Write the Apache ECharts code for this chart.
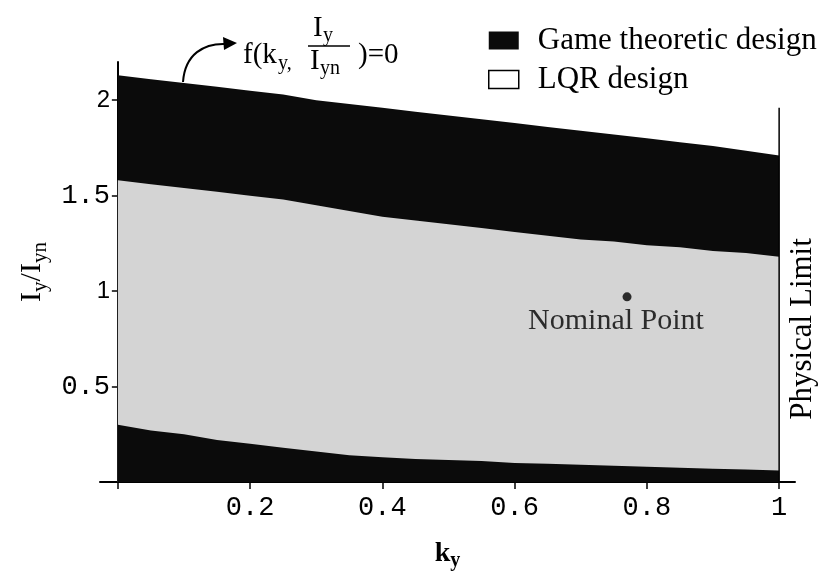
<!DOCTYPE html>
<html>
<head>
<meta charset="utf-8">
<script src="https://cdn.jsdelivr.net/npm/echarts@6/dist/echarts.min.js"></script>
<style>
  html, body { margin: 0; padding: 0; background: #fff; }
  #chart { width: 827px; height: 576px; }
</style>
</head>
<body>
<div id="chart"></div>
<script>
// k_y sample points and boundaries of the regions (I_y / I_yn)
const kValues = [0, 0.05, 0.1, 0.15, 0.2, 0.25, 0.3, 0.35, 0.4, 0.45, 0.5,
  0.55, 0.6, 0.65, 0.7, 0.75, 0.8, 0.85, 0.9, 0.95, 1]
const gameTop = [2.13, 2.11, 2.09, 2.07, 2.05, 2.03, 2.0, 1.98, 1.96, 1.94, 1.92,
  1.9, 1.88, 1.86, 1.84, 1.82, 1.8, 1.78, 1.76, 1.735, 1.71]
const lqrTop = [1.58, 1.56, 1.54, 1.52, 1.5, 1.48, 1.45, 1.42, 1.39, 1.37, 1.35,
  1.33, 1.31, 1.29, 1.27, 1.26, 1.24, 1.23, 1.21, 1.2, 1.18]
const lqrBottom = [0.3, 0.27, 0.25, 0.22, 0.2, 0.18, 0.16, 0.14, 0.13, 0.12, 0.115,
  0.11, 0.1, 0.095, 0.09, 0.085, 0.08, 0.075, 0.07, 0.065, 0.06]
const nominalPoint = [0.77, 0.97]
const physicalLimit = [[1, 0], [1, 1.96]]
const xTicks = [0, 0.2, 0.4, 0.6, 0.8, 1]
const xTickLabels = [0.2, 0.4, 0.6, 0.8, 1]
const yTicks = [0.5, 1, 1.5, 2]

const DARK = '#0b0b0b'
const LIGHT = '#d4d4d4'
const SERIF = '"Liberation Serif", "DejaVu Serif", serif'
const MONO = '"Liberation Mono", "DejaVu Sans Mono", monospace'

const chart = echarts.init(document.getElementById('chart'))

const pairs = ys => kValues.map((k, i) => [k, ys[i]])

function band(name, ys, color) {
  return {
    name,
    type: 'line',
    data: pairs(ys),
    symbol: 'none',
    lineStyle: { width: 0 },
    itemStyle: { color },
    areaStyle: { color, opacity: 1 },
    silent: true,
  }
}

chart.setOption({
  animation: false,
  grid: { left: 100, right: 32, top: 62, bottom: 94, outerBoundsMode: 'none', containLabel: false },
  legend: {
    left: 483,
    top: 20,
    orient: 'vertical',
    icon: 'rect',
    itemWidth: 30,
    itemHeight: 18,
    itemGap: 8,
    textStyle: { fontFamily: SERIF, fontSize: 31, color: '#000', padding: [0, 0, 0, 14] },
    data: [
      { name: 'Game theoretic design' },
      { name: 'LQR design', itemStyle: { color: '#fff', borderColor: '#000', borderWidth: 1.5 } },
    ],
  },
  xAxis: {
    type: 'value',
    min: -0.027,
    max: 1.024,
    splitLine: { show: false },
    axisLine: { lineStyle: { color: '#000', width: 2 } },
    axisTick: { customValues: xTicks, length: 7, lineStyle: { color: '#000', width: 1.5 } },
    axisLabel: {
      customValues: xTickLabels,
      formatter: v => String(v),
      fontFamily: MONO, fontSize: 27, color: '#000', margin: 12,
    },
    name: '{b|k}{s|y}',
    nameLocation: 'middle',
    nameGap: 55,
    nameTextStyle: {
      rich: {
        b: { fontFamily: SERIF, fontSize: 28, fontWeight: 'bold', color: '#000' },
        s: { fontFamily: SERIF, fontSize: 20, fontWeight: 'bold', color: '#000', padding: [14, 0, 0, 0] },
      },
    },
  },
  yAxis: {
    type: 'value',
    min: 0,
    max: 2.2,
    splitLine: { show: false },
    axisLine: { onZero: true, lineStyle: { color: '#000', width: 2 } },
    axisTick: { customValues: yTicks, length: 6, lineStyle: { color: '#000', width: 1.5 } },
    axisLabel: {
      customValues: yTicks,
      // labels are laid out from the grid edge, 18px left of the zero-crossing axis line
      margin: -10,
      formatter: v => (v === 1 || v === 2) ? '{s|' + v + '}' : '{m|' + v + '}',
      rich: {
        s: { fontFamily: '"Liberation Sans", Arial, sans-serif', fontSize: 24, color: '#000' },
        m: { fontFamily: MONO, fontSize: 27, color: '#000' },
      },
    },
    name: '{n|I}{s|y}{n|/I}{s|yn}',
    nameLocation: 'middle',
    nameGap: 44,
    nameTextStyle: {
      rich: {
        n: { fontFamily: SERIF, fontSize: 30, color: '#000' },
        s: { fontFamily: SERIF, fontSize: 21, color: '#000', padding: [15, 0, 0, 0] },
      },
    },
  },
  series: [
    band('Game theoretic design', gameTop, DARK),
    band('LQR design', lqrTop, LIGHT),
    band('Game theoretic design', lqrBottom, DARK),
    {
      type: 'line',
      data: physicalLimit,
      symbol: 'none',
      lineStyle: { color: '#000', width: 1.5 },
      silent: true,
    },
    {
      type: 'scatter',
      data: [nominalPoint],
      symbolSize: 9,
      itemStyle: { color: '#000' },
      z: 5,
      label: {
        show: true,
        formatter: 'Nominal Point',
        position: 'bottom',
        distance: 5,
        offset: [-11, 0],
        fontFamily: SERIF,
        fontSize: 30,
        color: '#000',
      },
    },
  ],
  graphic: [
    {
      type: 'bezierCurve',
      shape: { x1: 183, y1: 82, x2: 226, y2: 44, cpx1: 185, cpy1: 54, cpx2: 204, cpy2: 43 },
      style: { stroke: '#000', lineWidth: 2, fill: null },
    },
    {
      type: 'polygon',
      shape: { points: [[237, 43], [223, 37], [224, 50]] },
      style: { fill: '#000' },
    },
    { type: 'text', x: 243, y: 55, style: { text: 'f(k', font: '29px ' + SERIF, verticalAlign: 'middle', fill: '#000' } },
    { type: 'text', x: 278, y: 64, style: { text: 'y,', font: '20px ' + SERIF, verticalAlign: 'middle', fill: '#000' } },
    { type: 'text', x: 313, y: 28, style: { text: 'I', font: '29px ' + SERIF, verticalAlign: 'middle', fill: '#000' } },
    { type: 'text', x: 323, y: 36, style: { text: 'y', font: '20px ' + SERIF, verticalAlign: 'middle', fill: '#000' } },
    { type: 'line', shape: { x1: 308, y1: 46, x2: 350, y2: 46 }, style: { stroke: '#000', lineWidth: 1.5 } },
    { type: 'text', x: 310, y: 61, style: { text: 'I', font: '29px ' + SERIF, verticalAlign: 'middle', fill: '#000' } },
    { type: 'text', x: 320, y: 69, style: { text: 'yn', font: '20px ' + SERIF, verticalAlign: 'middle', fill: '#000' } },
    { type: 'text', x: 358, y: 55, style: { text: ')=0', font: '29px ' + SERIF, verticalAlign: 'middle', fill: '#000' } },
    {
      type: 'text', x: 803, y: 329, rotation: Math.PI / 2,
      style: { text: 'Physical Limit', font: '31px ' + SERIF, align: 'center', verticalAlign: 'middle', fill: '#000' },
    },
  ],
})

window.addEventListener('resize', () => chart.resize())
</script>
</body>
</html>
